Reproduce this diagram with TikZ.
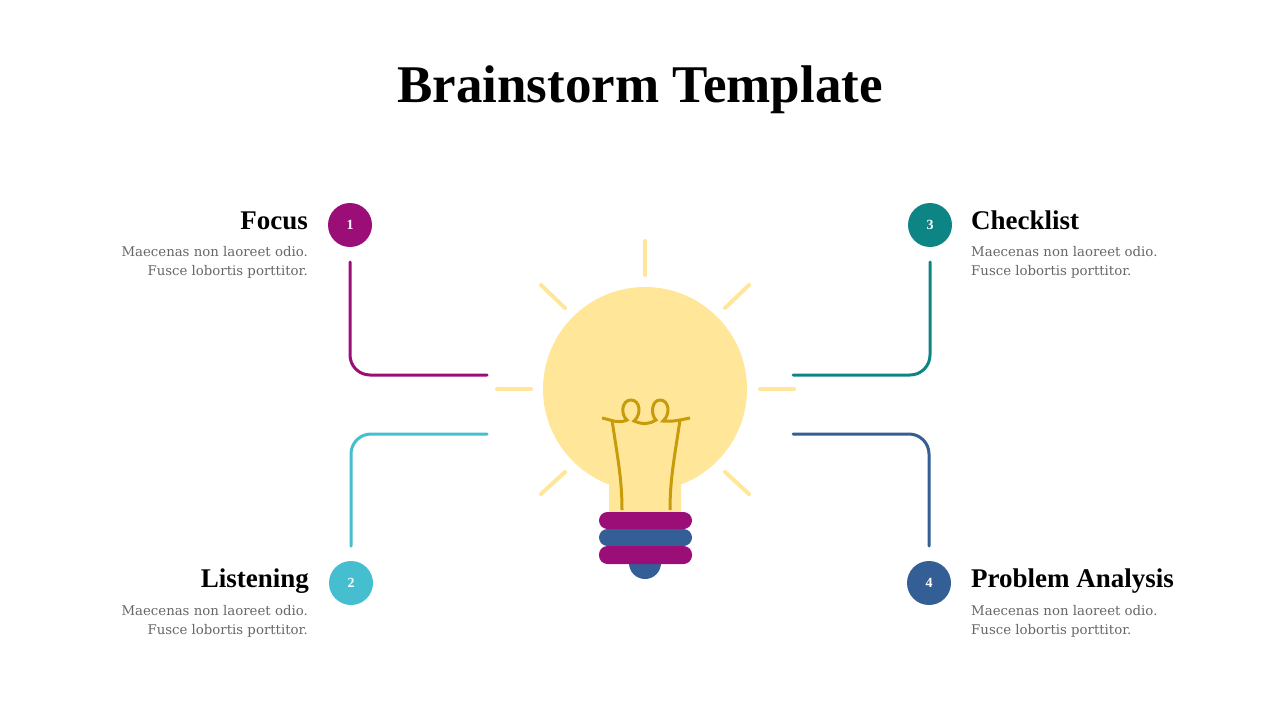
\documentclass[tikz,border=0pt]{standalone}
\usepackage{fontspec}
\setmainfont{Liberation Serif}
\newfontfamily\bodyfont{DejaVu Serif}
\begin{document}
\begin{tikzpicture}[x=1pt,y=-1pt,
  conn/.style={line width=3pt,rounded corners=20pt,line cap=round},
  ray/.style={line width=4pt,line cap=round,draw=bulbc},
  num/.style={circle,minimum size=44pt,inner sep=0pt,text=white,font=\bfseries\fontsize{14}{14}\selectfont},
  ttl/.style={font=\bfseries\fontsize{27}{28}\selectfont,inner sep=0pt},
  body/.style={font=\bodyfont\fontsize{13.3}{19.5}\selectfont,text=gray!80!black,inner sep=0pt}]
\definecolor{mag}{HTML}{9B0E77}
\definecolor{cyan2}{HTML}{45BFD0}
\definecolor{teal2}{HTML}{0E8585}
\definecolor{blue2}{HTML}{335E96}
\definecolor{bulbc}{HTML}{FFE699}
\definecolor{wire}{HTML}{C89B0A}
\useasboundingbox (0,0) rectangle (1280,720);
\node[font=\bfseries\fontsize{53}{56}\selectfont] (title) at (640,90) {Brainstorm Template};
% rays
\draw[ray] (645,241) -- (645,275);
\draw[ray] (541,285) -- (565,308);
\draw[ray] (749,285) -- (725,308);
\draw[ray] (497,389) -- (531,389);
\draw[ray] (760,389) -- (794,389);
\draw[ray] (541,494) -- (565,472);
\draw[ray] (749,494) -- (725,472);
% bulb
\fill[bulbc] (645,389) circle (102);
\fill[bulbc,rounded corners=6pt] (609,450) rectangle (681,520);
\fill[blue2] (645,563) circle (16);
\fill[mag,rounded corners=8.5pt] (599,512) rectangle (692,529);
\fill[blue2,rounded corners=8.5pt] (599,529) rectangle (692,546);
\fill[mag,rounded corners=8.5pt] (599,546) rectangle (692,564);
% filament
\draw[wire,line width=3pt] (602,418) .. controls (612,420) and (618,424) .. (627,420)
  .. controls (620,414) and (622,400) .. (631,400) .. controls (640,400) and (642,414) .. (634,421)
  .. controls (643,425) and (650,424) .. (656,420)
  .. controls (650,414) and (652,400) .. (660,400) .. controls (669,400) and (671,414) .. (663,421)
  .. controls (672,422) and (680,420) .. (690,418);
\draw[wire,line width=3pt] (612,420) .. controls (618,460) and (622,480) .. (622,510);
\draw[wire,line width=3pt] (680,420) .. controls (674,460) and (670,480) .. (670,510);
% connectors
\node[num,fill=mag] (n1) at (350,225) {1};
\node[num,fill=cyan2] (n2) at (351,583) {2};
\node[num,fill=teal2] (n3) at (930,225) {3};
\node[num,fill=blue2] (n4) at (929,583) {4};
\coordinate (e1) at (487,375); \coordinate (e2) at (487,434);
\coordinate (e3) at (793,375); \coordinate (e4) at (793,434);
\draw[conn,mag] (350,262) |- (e1);
\draw[conn,cyan2] (351,546) |- (e2);
\draw[conn,teal2] (930,262) |- (e3);
\draw[conn,blue2] (929,546) |- (e4);
% texts
\node[ttl,anchor=base east] (t1) at (308,229) {Focus};
\node[body,anchor=north east,align=right] (b1) at (308,246) {Maecenas non laoreet odio.\\Fusce lobortis porttitor.};
\node[ttl,anchor=base east] (t2) at (309,587) {Listening};
\node[body,anchor=north east,align=right] (b2) at (308,605) {Maecenas non laoreet odio.\\Fusce lobortis porttitor.};
\node[ttl,anchor=base west] (t3) at (971,229) {Checklist};
\node[body,anchor=north west,align=left] (b3) at (971,246) {Maecenas non laoreet odio.\\Fusce lobortis porttitor.};
\node[ttl,anchor=base west] (t4) at (971,587) {Problem Analysis};
\node[body,anchor=north west,align=left] (b4) at (971,605) {Maecenas non laoreet odio.\\Fusce lobortis porttitor.};
\end{tikzpicture}
\end{document}
